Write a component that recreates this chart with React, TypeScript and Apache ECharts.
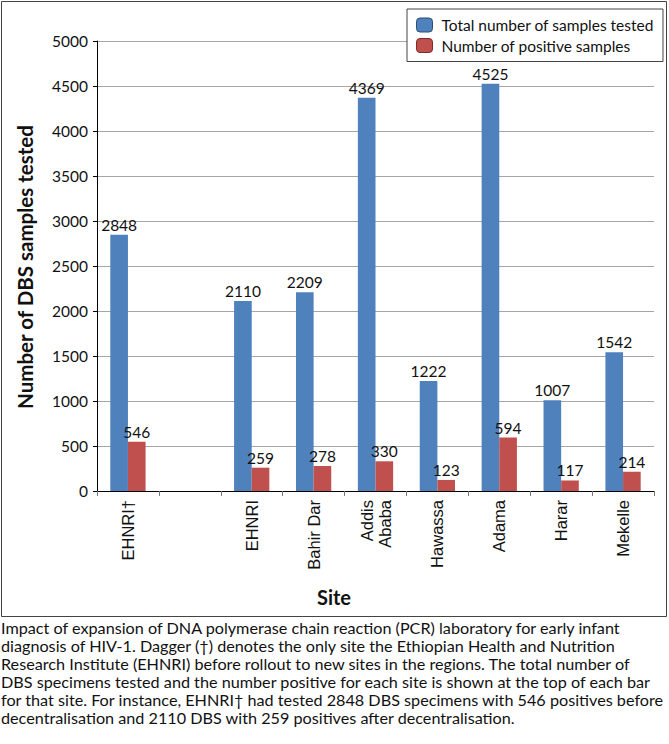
import React, { useEffect, useRef } from "react";
import * as echarts from "echarts";

const categories = ["EHNRI†", "", "EHNRI", "Bahir Dar", "Addis\nAbaba", "Hawassa", "Adama", "Harar", "Mekelle"];
const totalTested = [2848, null, 2110, 2209, 4369, 1222, 4525, 1007, 1542];
const positives = [546, null, 259, 278, 330, 123, 594, 117, 214];
const yTicks = { min: 0, max: 5000, interval: 500 };
const seriesNames = ["Total number of samples tested", "Number of positive samples"];
const yTitle = "Number of DBS samples tested";
const xTitle = "Site";
const captionLines = [
  "Impact of expansion of DNA polymerase chain reaction (PCR) laboratory for early infant",
  "diagnosis of HIV-1. Dagger (†) denotes the only site the Ethiopian Health and Nutrition",
  "Research Institute (EHNRI) before rollout to new sites in the regions. The total number of",
  "DBS specimens tested and the number positive for each site is shown at the top of each bar",
  "for that site. For instance, EHNRI† had tested 2848 DBS specimens with 546 positives before",
  "decentralisation and 2110 DBS with 259 positives after decentralisation.",
];

const FONT = "Lato, 'Open Sans', sans-serif";

export default function App() {
  const ref = useRef<HTMLDivElement>(null);
  useEffect(() => {
    document.body.style.margin = "0";
    const chart = echarts.init(ref.current!, null, { renderer: "svg" });
    const captionGraphics = captionLines.map((t, i) => ({
      type: "text",
      left: 1,
      top: 619 + i * 18,
      style: { text: t, font: `16.2px ${FONT}`, fill: "#111" },
    }));
    chart.setOption({
      animation: false,
      backgroundColor: "#fff",
      grid: { left: 97, right: 15, top: 41, bottom: 253 },
      legend: {
        orient: "vertical",
        left: 407,
        top: 9,
        padding: [8, 9, 8, 9],
        itemGap: 4.5,
        itemWidth: 16,
        itemHeight: 14,
        backgroundColor: "#fff",
        borderColor: "#444",
        borderWidth: 1,
        borderRadius: 0,
        textStyle: {
          fontFamily: FONT,
          fontSize: 15.5,
          color: "#111",
          padding: [0, 0, 0, 4],
          width: 211,
          overflow: "none",
        },
        data: [
          { name: seriesNames[0], itemStyle: { borderColor: "#2c4d75", borderWidth: 1 } },
          { name: seriesNames[1], itemStyle: { borderColor: "#7f2b29", borderWidth: 1 } },
        ],
      },
      xAxis: {
        type: "category",
        data: categories,
        axisLine: { lineStyle: { color: "#000", width: 1 } },
        axisTick: { show: true, interval: 0, length: 5, lineStyle: { color: "#777" } },
        axisLabel: {
          interval: 0,
          rotate: 90,
          margin: 9,
          fontFamily: "'Liberation Sans', Arial, sans-serif",
          fontSize: 16.5,
          color: "#111",
          lineHeight: 18,
        },
      },
      yAxis: {
        type: "value",
        min: yTicks.min,
        max: yTicks.max,
        interval: yTicks.interval,
        axisLine: { show: true, lineStyle: { color: "#000", width: 1 } },
        axisTick: { show: true, length: 4, lineStyle: { color: "#000" } },
        axisLabel: {
          fontFamily: FONT,
          fontSize: 15.5,
          color: "#111",
          margin: 9,
          formatter: (v: number) => String(v),
        },
        splitLine: { lineStyle: { color: "#a6a6a6", width: 1 } },
      },
      series: [
        {
          name: seriesNames[0],
          type: "bar",
          data: totalTested,
          barGap: "0%",
          barCategoryGap: "43%",
          itemStyle: { color: "#4f81bd" },
          label: { show: true, position: "top", distance: 2, fontFamily: FONT, fontSize: 15.5, color: "#111" },
        },
        {
          name: seriesNames[1],
          type: "bar",
          data: positives,
          barGap: "0%",
          barCategoryGap: "43%",
          itemStyle: { color: "#c0504d" },
          label: { show: true, position: "top", distance: 2, fontFamily: FONT, fontSize: 15.5, color: "#111" },
        },
      ],
      graphic: [
        {
          type: "rect",
          shape: { x: 1.5, y: 1.5, width: 665, height: 615 },
          style: { fill: "none", stroke: "#444", lineWidth: 1 },
          silent: true,
        },
        {
          type: "text",
          x: 25,
          y: 267,
          rotation: Math.PI / 2,
          style: { text: yTitle, font: `bold 20.5px ${FONT}`, fill: "#111", align: "center", verticalAlign: "middle" },
        },
        {
          type: "text",
          x: 334,
          y: 597,
          style: { text: xTitle, font: `bold 20px ${FONT}`, fill: "#111", align: "center", verticalAlign: "middle" },
        },
        ...captionGraphics,
      ],
    });
    return () => chart.dispose();
  }, []);
  return <div ref={ref} style={{ width: 669, height: 744 }} />;
}
